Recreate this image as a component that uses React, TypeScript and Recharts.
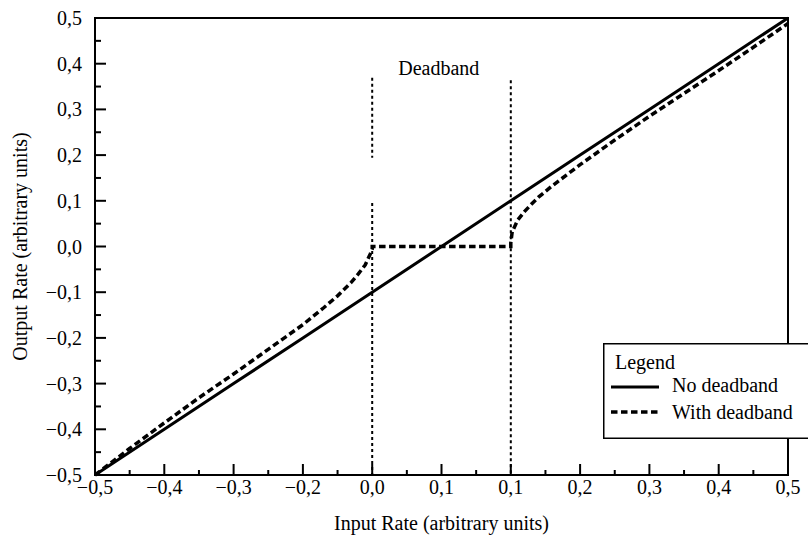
import React from 'react';
import {
  LineChart,
  Line,
  XAxis,
  YAxis,
  ReferenceLine,
  ReferenceArea,
  ReferenceDot,
  Legend,
  Label,
} from 'recharts';

const FONT = '"Liberation Serif", "Times New Roman", Times, serif';

// ---- axis ticks & labels ----
const X_TICKS = [-0.5, -0.45, -0.4, -0.35, -0.3, -0.25, -0.2, -0.15, -0.1, -0.05, 0, 0.05, 0.1, 0.15, 0.2, 0.25, 0.3, 0.35, 0.4, 0.45, 0.5];
const X_LABELS = ['−0,5', '−0,4', '−0,3', '−0,2', '0,0', '0,1', '0,1', '0,2', '0,3', '0,4', '0,5'];
const Y_TICKS = [-0.5, -0.45, -0.4, -0.35, -0.3, -0.25, -0.2, -0.15, -0.1, -0.05, 0, 0.05, 0.1, 0.15, 0.2, 0.25, 0.3, 0.35, 0.4, 0.45, 0.5];
const Y_LABELS = ['−0,5', '−0,4', '−0,3', '−0,2', '−0,1', '0,0', '0,1', '0,2', '0,3', '0,4', '0,5'];

// ---- series: No deadband ----
const NO_DB_X = [-0.5, -0.4, -0.3, -0.2, -0.1, 0, 0.1, 0.2, 0.3, 0.4, 0.5];
const NO_DB_Y = [-0.5, -0.4, -0.3, -0.2, -0.1, 0, 0.1, 0.2, 0.3, 0.4, 0.5];

// ---- series: With deadband ----
const DB_X = [-0.5, -0.45, -0.4, -0.35, -0.3, -0.25, -0.2, -0.17, -0.15, -0.13, -0.12, -0.11, -0.103, -0.1, -0.1, 0.1, 0.1, 0.102, 0.11, 0.12, 0.13, 0.14, 0.16, 0.2, 0.25, 0.3, 0.35, 0.4, 0.45, 0.5];
const DB_Y = [-0.5, -0.442, -0.386, -0.331, -0.279, -0.225, -0.171, -0.134, -0.108, -0.078, -0.06, -0.04, -0.017, -0.006, 0, 0, 0.008, 0.032, 0.058, 0.077, 0.093, 0.108, 0.133, 0.179, 0.233, 0.285, 0.335, 0.385, 0.436, 0.488];

// ---- deadband markers ----
const DEADBAND_EDGES = [
  { x: -0.1, y1: 0.369, y2: 0.194 },
  { x: -0.1, y1: 0.095, y2: -0.5 },
  { x: 0.1, y1: 0.364, y2: -0.5 },
];
const DEADBAND_LABEL = { x: -0.004, y: 0.375, text: 'Deadband' };

const SERIES = [
  { name: 'No deadband', dash: undefined as string | undefined, width: 3 },
  { name: 'With deadband', dash: '6.5 3.5', width: 3.5 },
];

const noDbData = NO_DB_X.map((x, i) => ({ x, y: NO_DB_Y[i] }));
const dbData = DB_X.map((x, i) => ({ x, y: DB_Y[i] }));

const textStyle = { fontFamily: FONT, fontSize: 20, fill: '#000' };

const isMajor = (v: number) => Math.abs(Math.round(v * 10) - v * 10) < 1e-6;

const renderXTick = (props: any) => {
  const { x, y, payload } = props;
  const v = payload.value as number;
  const major = isMajor(v);
  const idx = Math.round((v + 0.5) * 10);
  return (
    <g>
      <line x1={x} x2={x} y1={y} y2={y - (major ? 11 : 5)} stroke="#000" strokeWidth={2} />
      {major && (
        <text x={x} y={y + 19} textAnchor="middle" style={textStyle}>
          {X_LABELS[idx]}
        </text>
      )}
    </g>
  );
};

const renderYTick = (props: any) => {
  const { x, y, payload } = props;
  const v = payload.value as number;
  const major = isMajor(v);
  const idx = Math.round((v + 0.5) * 10);
  return (
    <g>
      <line x1={x} x2={x + (major ? 11 : 6)} y1={y} y2={y} stroke="#000" strokeWidth={2} />
      {major && (
        <text x={x - 13} y={y + 7} textAnchor="end" style={textStyle}>
          {Y_LABELS[idx]}
        </text>
      )}
    </g>
  );
};

const renderXTitle = (props: any) => {
  const vb = props.viewBox;
  const cx = vb.x + vb.width / 2;
  return (
    <text x={cx} y={vb.y + 55} textAnchor="middle" style={textStyle}>
      Input Rate (arbitrary units)
    </text>
  );
};

const renderYTitle = (props: any) => {
  const vb = props.viewBox;
  const cy = vb.y + vb.height / 2;
  const bx = vb.x + 27;
  return (
    <text x={bx} y={cy} textAnchor="middle" transform={`rotate(-90, ${bx}, ${cy})`} style={textStyle}>
      Output Rate (arbitrary units)
    </text>
  );
};

const renderDeadbandLabel = (props: any) => {
  const vb = props.viewBox;
  return (
    <text x={vb.x} y={vb.y} textAnchor="middle" style={textStyle}>
      {DEADBAND_LABEL.text}
    </text>
  );
};

const renderLegend = () => (
  <svg width={205} height={96} style={{ display: 'block', overflow: 'hidden' }}>
    <rect x={0.75} y={0.75} width={230} height={94.5} fill="#fff" stroke="#000" strokeWidth={1.5} />
    <text x={12} y={26} style={textStyle}>
      Legend
    </text>
    {SERIES.map((s, i) => (
      <g key={s.name}>
        <line
          x1={8}
          x2={56}
          y1={44 + i * 25}
          y2={44 + i * 25}
          stroke="#000"
          strokeWidth={s.width}
          strokeDasharray={s.dash}
        />
        <text x={69} y={49 + i * 27} style={textStyle}>
          {s.name}
        </text>
      </g>
    ))}
  </svg>
);

export default function App() {
  return (
    <div style={{ position: 'absolute', left: 0, top: 0, width: 808, height: 538, background: '#fff' }}>
      <LineChart width={808} height={538} margin={{ top: 18, right: 20, bottom: 0, left: 0 }}>
        <XAxis
          type="number"
          dataKey="x"
          domain={[-0.5, 0.5]}
          ticks={X_TICKS}
          interval={0}
          tick={renderXTick}
          tickLine={false}
          tickSize={0}
          tickMargin={0}
          height={63}
          axisLine={{ stroke: '#000', strokeWidth: 2 }}
        >
          <Label content={renderXTitle} />
        </XAxis>
        <YAxis
          type="number"
          dataKey="y"
          domain={[-0.5, 0.5]}
          ticks={Y_TICKS}
          interval={0}
          tick={renderYTick}
          tickLine={false}
          tickSize={0}
          tickMargin={0}
          width={95}
          axisLine={{ stroke: '#000', strokeWidth: 2 }}
        >
          <Label content={renderYTitle} />
        </YAxis>
        {DEADBAND_EDGES.map((e, i) => (
          <ReferenceLine
            key={i}
            segment={[
              { x: e.x, y: e.y1 },
              { x: e.x, y: e.y2 },
            ]}
            stroke="#000"
            strokeWidth={2}
            strokeDasharray="3 3"
            ifOverflow="visible"
          />
        ))}
        <ReferenceDot
          x={DEADBAND_LABEL.x}
          y={DEADBAND_LABEL.y}
          r={0}
          fill="none"
          stroke="none"
          ifOverflow="visible"
          label={{ content: renderDeadbandLabel }}
        />
        <Line
          data={noDbData}
          dataKey="y"
          type="linear"
          name={SERIES[0].name}
          stroke="#000"
          strokeWidth={SERIES[0].width}
          dot={false}
          activeDot={false}
          isAnimationActive={false}
        />
        <Line
          data={dbData}
          dataKey="y"
          type="linear"
          name={SERIES[1].name}
          stroke="#000"
          strokeWidth={SERIES[1].width}
          strokeDasharray={SERIES[1].dash}
          dot={false}
          activeDot={false}
          isAnimationActive={false}
        />
        <ReferenceArea
          x1={-0.5}
          x2={0.5}
          y1={-0.5}
          y2={0.5}
          fill="none"
          fillOpacity={0}
          stroke="#000"
          strokeWidth={2}
          ifOverflow="visible"
        />
        <Legend
          layout="vertical"
          align="center"
          verticalAlign="middle"
          wrapperStyle={{ position: 'absolute', left: 603, top: 343, width: 205, height: 96, margin: 0 }}
          content={renderLegend}
        />
      </LineChart>
    </div>
  );
}
